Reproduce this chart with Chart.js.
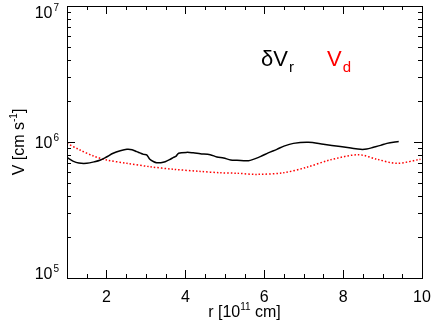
<!DOCTYPE html>
<html>
<head>
<meta charset="utf-8">
<script src="https://cdn.jsdelivr.net/npm/chart.js@4/dist/chart.umd.min.js"></script>
<style>
html,body{margin:0;padding:0;background:#fff;}
#wrap{width:433px;height:325px;position:relative;}
</style>
</head>
<body>
<div id="wrap"><canvas id="c" width="433" height="325"></canvas></div>
<script>
// r in units of 1e11 cm
const rBlack = [1.0,1.15,1.3,1.5,1.7,1.85,2.0,2.17,2.35,2.52,2.65,2.77,2.85,2.94,3.02,3.1,3.2,3.27,3.38,3.49,3.6,3.7,3.76,3.83,4.04,4.2,4.38,4.63,4.8,4.97,5.15,5.31,5.6,5.9,6.1,6.32,6.5,6.74,7.12,7.5,7.93,8.2,8.44,8.6,8.77,8.95,9.11,9.41];
const dVr = [7.71e5,7.24e5,7.00e5,6.97e5,7.16e5,7.38e5,7.76e5,8.26e5,8.61e5,8.83e5,8.77e5,8.49e5,8.32e5,8.11e5,8.04e5,7.46e5,7.16e5,7.05e5,7.05e5,7.16e5,7.41e5,7.71e5,7.85e5,8.26e5,8.39e5,8.32e5,8.20e5,8.07e5,7.76e5,7.62e5,7.38e5,7.35e5,7.29e5,7.80e5,8.32e5,8.83e5,9.33e5,9.77e5,9.95e5,9.62e5,9.25e5,9.02e5,8.83e5,8.87e5,9.14e5,9.44e5,9.77e5,1.01e6];
const rRed = [1.0,1.33,1.67,2.0,2.52,3.1,3.7,4.38,4.88,5.31,5.81,6.49,7.08,7.67,8.39,8.86,9.37,9.96];
const Vd = [9.77e5,8.73e5,7.89e5,7.38e5,6.97e5,6.58e5,6.30e5,6.08e5,5.94e5,5.89e5,5.78e5,5.94e5,6.52e5,7.38e5,8.07e5,7.46e5,6.97e5,7.46e5];
const xMajorTicks = [2,4,6,8,10];
const xMinorTicks = [1.5,2.5,3,3.5,4.5,5,5.5,6.5,7,7.5,8.5,9,9.5];
const yExponents = [5,6,7];
const xTitle = ['r [10','11',' cm]'];
const yTitle = ['V [cm s','-1',']'];

const FONT = '"Liberation Sans", Arial, Helvetica, sans-serif';

const axesPlugin = {
  id: 'idlAxes',
  afterDraw(chart) {
    const ctx = chart.ctx;
    const a = chart.chartArea;
    const xs = chart.scales.x, ys = chart.scales.y;
    ctx.save();
    ctx.strokeStyle = '#000';
    ctx.lineWidth = 1;
    ctx.strokeRect(a.left + 0.5, a.top + 0.5, a.right - a.left, a.bottom - a.top);
    const MAJ = 8, MIN = 4;
    ctx.beginPath();
    xMajorTicks.forEach(v => {
      const px = Math.round(xs.getPixelForValue(v)) + 0.5;
      ctx.moveTo(px, a.bottom); ctx.lineTo(px, a.bottom - MAJ);
      ctx.moveTo(px, a.top); ctx.lineTo(px, a.top + MAJ);
    });
    xMinorTicks.forEach(v => {
      const px = Math.round(xs.getPixelForValue(v)) + 0.5;
      ctx.moveTo(px, a.bottom); ctx.lineTo(px, a.bottom - MIN);
      ctx.moveTo(px, a.top); ctx.lineTo(px, a.top + MIN);
    });
    for (let e = yExponents[0]; e < yExponents[yExponents.length-1]; e++) {
      for (let m = 2; m <= 9; m++) {
        const py = Math.round(ys.getPixelForValue(m * Math.pow(10, e))) + 0.5;
        ctx.moveTo(a.left, py); ctx.lineTo(a.left + MIN, py);
        ctx.moveTo(a.right, py); ctx.lineTo(a.right - MIN, py);
      }
    }
    yExponents.forEach(e => {
      const py = Math.round(ys.getPixelForValue(Math.pow(10, e))) + 0.5;
      ctx.moveTo(a.left, py); ctx.lineTo(a.left + MAJ, py);
      ctx.moveTo(a.right, py); ctx.lineTo(a.right - MAJ, py);
    });
    ctx.stroke();

    ctx.fillStyle = '#000';
    // x tick labels
    ctx.font = '16px ' + FONT;
    ctx.textAlign = 'center';
    ctx.textBaseline = 'alphabetic';
    xMajorTicks.forEach(v => {
      ctx.fillText(String(v), xs.getPixelForValue(v), a.bottom + 24);
    });
    // y tick labels 10^n
    yExponents.forEach(e => {
      const py = ys.getPixelForValue(Math.pow(10, e));
      const cy = Math.min(Math.max(py, a.top + 5.5), a.bottom - 5);
      const base = cy + 6;
      ctx.font = '10px ' + FONT;
      const ws = ctx.measureText(String(e)).width;
      ctx.font = '16px ' + FONT;
      const wb = ctx.measureText('10').width;
      const right = a.left - 8;
      ctx.textAlign = 'left';
      ctx.fillText('10', right - ws - wb - 1, base);
      ctx.font = '10px ' + FONT;
      ctx.fillText(String(e), right - ws, base - 7);
    });
    // composite text with superscript
    function supText(parts, cx, base) {
      ctx.font = '16px ' + FONT;
      const w0 = ctx.measureText(parts[0]).width;
      const w2 = ctx.measureText(parts[2]).width;
      ctx.font = '10px ' + FONT;
      const w1 = ctx.measureText(parts[1]).width;
      let x = cx - (w0 + w1 + w2) / 2;
      ctx.textAlign = 'left';
      ctx.font = '16px ' + FONT;
      ctx.fillText(parts[0], x, base); x += w0;
      ctx.font = '10px ' + FONT;
      ctx.fillText(parts[1], x, base - 7); x += w1;
      ctx.font = '16px ' + FONT;
      ctx.fillText(parts[2], x, base);
    }
    supText(xTitle, (a.left + a.right) / 2, a.bottom + 39);
    ctx.save();
    ctx.translate(a.left - 43, (a.top + a.bottom) / 2);
    ctx.rotate(-Math.PI / 2);
    supText(yTitle, 0, 0);
    ctx.restore();

    // in-plot labels
    ctx.textAlign = 'left';
    ctx.fillStyle = '#000';
    ctx.font = '22px ' + FONT;
    ctx.fillText('\u03B4V', 261, 66);
    let w = ctx.measureText('\u03B4V').width;
    ctx.font = '15px ' + FONT;
    ctx.fillText('r', 261 + w + 1, 72);
    ctx.fillStyle = '#ff0000';
    ctx.font = '22px ' + FONT;
    ctx.fillText('V', 327, 66);
    w = ctx.measureText('V').width;
    ctx.font = '15px ' + FONT;
    ctx.fillText('d', 327 + w + 1, 72);
    ctx.restore();
  }
};

new Chart(document.getElementById('c'), {
  type: 'line',
  data: {
    datasets: [
      {
        label: 'dVr',
        data: rBlack.map((r, i) => ({x: r, y: dVr[i]})),
        borderColor: '#000',
        borderWidth: 1.5,
        pointRadius: 0,
        tension: 0.3,
        fill: false
      },
      {
        label: 'Vd',
        data: rRed.map((r, i) => ({x: r, y: Vd[i]})),
        borderColor: '#ff0000',
        borderWidth: 1.5,
        borderDash: [1.5, 2],
        pointRadius: 0,
        tension: 0.3,
        fill: false
      }
    ]
  },
  options: {
    responsive: false,
    animation: false,
    devicePixelRatio: 1,
    layout: { padding: { left: 67, right: 11, top: 6, bottom: 47 } },
    plugins: { legend: { display: false }, tooltip: { enabled: false } },
    scales: {
      x: { type: 'linear', min: 1, max: 10, display: false },
      y: { type: 'logarithmic', min: 1e5, max: 1e7, display: false }
    }
  },
  plugins: [axesPlugin]
});
</script>
</body>
</html>
